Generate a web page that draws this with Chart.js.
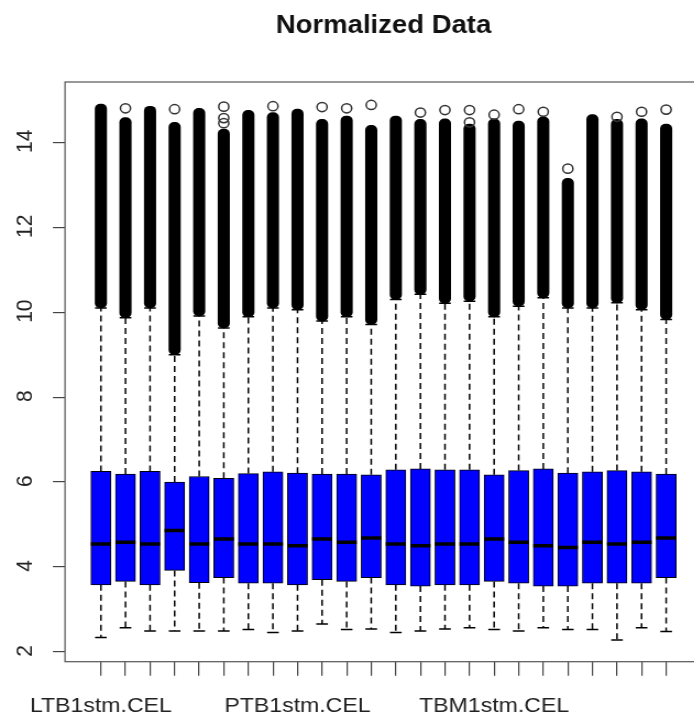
<!DOCTYPE html>
<html>
<head>
<meta charset="utf-8">
<script src="https://cdn.jsdelivr.net/npm/chart.js@4.4.0/dist/chart.umd.min.js"></script>
<style>
  html, body { margin: 0; padding: 0; background: #fff; }
  #wrap { width: 694px; height: 722px; overflow: hidden; }
</style>
</head>
<body>
<div id="wrap">
  <canvas id="chart" width="660" height="722" style="width:726px;height:722px;display:block"></canvas>
</div>
<script>
/* ── Data (24 arrays, only 3 names printed) ── */
const sampleLabels = [
    'LTB1stm.CEL', '', '', '', '', '', '', '',
    'PTB1stm.CEL', '', '', '', '', '', '', '',
    'TBM1stm.CEL', '', '', '', '', '', '', ''
];
const q1 = [3.58, 3.66, 3.58, 3.92, 3.63, 3.75, 3.62, 3.62, 3.58, 3.70, 3.66, 3.75,
            3.58, 3.55, 3.58, 3.58, 3.66, 3.62, 3.55, 3.55, 3.62, 3.62, 3.62, 3.75];
const median = [4.54, 4.58, 4.54, 4.86, 4.54, 4.66, 4.54, 4.54, 4.50, 4.66, 4.58, 4.68,
                4.54, 4.50, 4.54, 4.54, 4.66, 4.58, 4.50, 4.46, 4.58, 4.54, 4.58, 4.68];
const q3 = [6.25, 6.19, 6.25, 6.00, 6.13, 6.09, 6.20, 6.24, 6.21, 6.19, 6.19, 6.17,
            6.29, 6.31, 6.29, 6.29, 6.17, 6.27, 6.31, 6.21, 6.24, 6.27, 6.24, 6.19];
const lowerWhisker = [2.34, 2.57, 2.49, 2.49, 2.49, 2.49, 2.53, 2.46, 2.49, 2.66, 2.53, 2.54,
                      2.46, 2.49, 2.54, 2.57, 2.53, 2.49, 2.57, 2.53, 2.53, 2.28, 2.57, 2.48];
const upperWhisker = [10.10, 9.87, 10.10, 9.00, 9.91, 9.63, 9.89, 10.10, 10.06, 9.79, 9.89, 9.71,
                      10.30, 10.42, 10.21, 10.26, 9.89, 10.14, 10.34, 10.10, 10.10, 10.22, 10.06, 9.83];
// top of the dense run of outliers (they overlap into a solid column)
const outlierTop = [14.90, 14.58, 14.85, 14.47, 14.80, 14.31, 14.75, 14.70, 14.78, 14.54, 14.62, 14.40,
                    14.62, 14.54, 14.55, 14.43, 14.55, 14.50, 14.60, 13.15, 14.65, 14.54, 14.55, 14.43];
// separate circles above the dense run
const strayOutliers = [
    [], [14.80], [], [14.78], [], [14.84, 14.57, 14.45], [], [14.85], [], [14.83], [14.80], [14.88],
    [], [14.70], [14.76], [14.76, 14.47], [14.65], [14.78], [14.72], [13.38], [], [14.60], [14.72], [14.77]
];
const yTicks = [2, 4, 6, 8, 10, 12, 14];

/* ── Axis ranges (R pads data range by 4%) ─────────────── */
const X_MIN = -0.46, X_MAX = 25.46;
const Y_MIN = 1.77,  Y_MAX = 15.42;

const FONT = 'Liberation Sans';
const pos = sampleLabels.map((_, i) => i + 1);

/* ── Helper plugins: plot frame + rotated y labels ─────── */
const frame = {
    id : 'frame',
    afterDatasetsDraw(chart) {
        const { ctx, chartArea: a } = chart;
        ctx.save();
        ctx.strokeStyle = '#555';
        ctx.lineWidth   = 1.2;
        ctx.strokeRect(a.left, a.top, a.right - a.left, a.bottom - a.top);
        ctx.restore();
    },
};

const yLabels = {
    id : 'yLabels',
    afterDraw(chart) {
        const { ctx } = chart;
        const s = chart.scales.y;
        ctx.save();
        ctx.fillStyle    = '#222';
        ctx.font         = `21px "${FONT}"`;
        ctx.textAlign    = 'center';
        ctx.textBaseline = 'middle';
        s.ticks.forEach(t => {
            ctx.save();
            ctx.translate(22, s.getPixelForValue(t.value));
            ctx.rotate(-Math.PI / 2);
            ctx.fillText(String(t.value), 1, 1);
            ctx.restore();
        });
        ctx.restore();
    },
};

new Chart(document.getElementById('chart'), {
    type : 'bar',
    data : {
        datasets : [
            {
                label           : 'box',
                data            : pos.map((x, i) => ({ x, y: [q1[i], q3[i]] })),
                backgroundColor : '#0000FF',
                borderColor     : '#000',
                borderWidth     : 1,
                borderSkipped   : false,
                barThickness    : 18.2,
                maxBarThickness : 18.2,
                grouped         : false,
                order           : 3,
            },
            {
                label           : 'outliers',
                data            : pos.map((x, i) => ({ x, y: [upperWhisker[i], outlierTop[i]] })),
                backgroundColor : '#000',
                borderWidth     : 0,
                borderRadius    : 5,
                borderSkipped   : false,
                barThickness    : 10.4,
                maxBarThickness : 10.4,
                grouped         : false,
                order           : 2,
            },
            {
                type        : 'line',
                label       : 'whiskers',
                data        : pos.flatMap((x, i) => [
                    { x, y: q3[i] }, { x, y: upperWhisker[i] }, { x, y: null },
                    { x, y: q1[i] }, { x, y: lowerWhisker[i] }, { x, y: null },
                ]),
                borderColor : '#000',
                borderWidth : 1.5,
                borderDash  : [6, 4],
                pointRadius : 0,
                spanGaps    : false,
                order       : 5,
            },
            {
                type             : 'line',
                label            : 'staples',
                data             : pos.flatMap((x, i) => [{ x, y: lowerWhisker[i] }, { x, y: upperWhisker[i] }]),
                showLine         : false,
                pointStyle       : 'line',
                pointRadius      : 5.3,
                pointBorderWidth : 1.5,
                pointBorderColor : '#000',
                order            : 4,
            },
            {
                type             : 'line',
                label            : 'median',
                data             : pos.map((x, i) => ({ x, y: median[i] })),
                showLine         : false,
                pointStyle       : 'line',
                pointRadius      : 9.1,
                pointBorderWidth : 3.5,
                pointBorderColor : '#000',
                order            : 1,
            },
            {
                type                 : 'line',
                label                : 'stray',
                data                 : pos.flatMap((x, i) => strayOutliers[i].map(y => ({ x, y }))),
                showLine             : false,
                pointStyle           : 'circle',
                pointRadius          : 4.6,
                pointBorderWidth     : 1.5,
                pointBorderColor     : '#333',
                pointBackgroundColor : 'rgba(255,255,255,0)',
                order                : 0,
            },
        ],
    },
    options : {
        responsive       : false,
        animation        : false,
        devicePixelRatio : 1,
        layout  : { padding: { left: 0, right: 21.8, top: 0, bottom: 0 } },
        plugins : {
            legend  : { display: false },
            tooltip : { enabled: false },
            title   : {
                display  : true,
                text     : 'Normalized Data',
                fullSize : false,
                color    : '#111',
                font     : { family: FONT, size: 25, weight: 'bold', lineHeight: 1.2 },
                padding  : { top: 11, bottom: 41 },
            },
        },
        scales : {
            x : {
                type   : 'linear',
                min    : X_MIN,
                max    : X_MAX,
                offset : false,
                afterBuildTicks : s => { s.ticks = pos.map(v => ({ value: v })); },
                afterFit        : s => { s.height = 60.3; },
                grid   : { drawOnChartArea: false, offset: false, tickLength: 14, color: '#444', lineWidth: 1.2 },
                border : { display: false },
                ticks  : {
                    autoSkip    : false,
                    maxRotation : 0,
                    minRotation : 0,
                    padding     : 18,
                    color       : '#222',
                    font        : { family: FONT, size: 21 },
                    callback    : v => sampleLabels[v - 1] || '',
                },
            },
            y : {
                min    : Y_MIN,
                max    : Y_MAX,
                afterBuildTicks : s => { s.ticks = yTicks.map(v => ({ value: v })); },
                afterFit        : s => { s.width = 59.1; },
                grid   : { drawOnChartArea: false, tickLength: 11, color: '#444', lineWidth: 1.2 },
                border : { display: false },
                ticks  : { display: false },
            },
        },
    },
    plugins : [frame, yLabels],
});
</script>
</body>
</html>
